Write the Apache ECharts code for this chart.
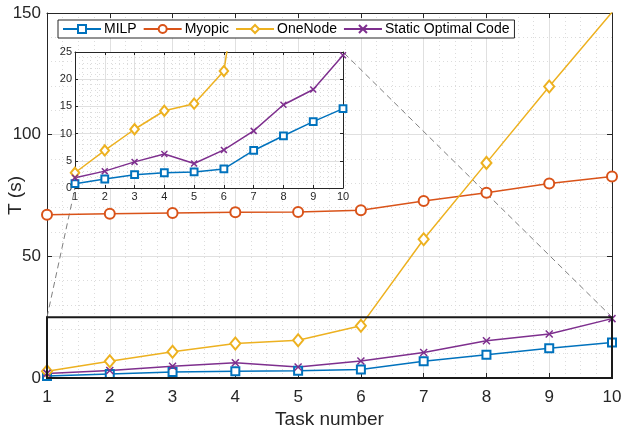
<!DOCTYPE html>
<html>
<head>
<meta charset="utf-8">
<script src="https://cdn.jsdelivr.net/npm/echarts@6/dist/echarts.min.js"></script>
<style>
  html, body { margin: 0; padding: 0; background: #fff; }
  #chart { width: 621px; height: 433px; }
</style>
</head>
<body>
<div id="chart"></div>
<script>
// Task numbers on the x axis
const tasks = [1, 2, 3, 4, 5, 6, 7, 8, 9, 10];

// Completion time T (s) per method
const milp      = [0.8, 1.65, 2.45, 2.8, 2.95, 3.5, 6.9, 9.6, 12.2, 14.6];
const myopic    = [67.1, 67.5, 67.8, 68.1, 68.2, 68.9, 72.7, 76.1, 79.9, 82.8];
const oneNode   = [2.8, 6.9, 10.8, 14.2, 15.5, 21.5, 57.0, 88.4, 119.8, 150.3];
const staticOpt = [1.9, 3.1, 4.8, 6.25, 4.5, 7.0, 10.5, 15.3, 18.1, 24.4];

// Axis ranges and ticks
const mainX = [1, 10];
const mainY = [0, 150];
const mainYTicks = 50;
const zoomX = [1, 10];
const zoomY = [0, 25];
const zoomYTicks = 5;

const FONT = '"Liberation Sans", Arial, Helvetica, sans-serif';
const AX = '#262626';
const GRID = '#e0e0e0';

const pairs = vals => tasks.map((t, i) => [t, vals[i]]);

const styles = [
  { name: 'MILP', data: milp, color: '#0072BD', symbol: 'emptyRect', size: 8 },
  { name: 'Myopic', data: myopic, color: '#D95319', symbol: 'emptyCircle', size: 10 },
  { name: 'OneNode', data: oneNode, color: '#EDB120', symbol: 'emptyDiamond', size: [10, 12] },
  { name: 'Static Optimal Code', data: staticOpt, color: '#7E2F8E', symbol: 'path://M0 0L10 10M10 0L0 10', size: 7 }
];

function makeSeries(s, xi, yi, scale, z) {
  const size = Array.isArray(s.size) ? s.size.map(v => v * scale) : s.size * scale;
  return {
    name: s.name,
    type: 'line',
    xAxisIndex: xi,
    yAxisIndex: yi,
    data: pairs(s.data),
    symbol: s.symbol,
    symbolSize: size,
    showAllSymbol: true,
    clip: true,
    z: z,
    lineStyle: { color: s.color, width: 1.5 },
    itemStyle: { color: s.color, borderColor: s.color, borderWidth: 1.5 },
    emphasis: { disabled: true },
    animation: false
  };
}

function valueAxis(opts) {
  return Object.assign({
    type: 'value',
    axisLine: { show: true, onZero: false, lineStyle: { color: AX, width: 1 } },
    axisTick: { show: true, inside: true, length: 5, lineStyle: { color: AX } },
    axisLabel: { show: true, color: AX, fontFamily: FONT, fontSize: 17 },
    splitLine: { show: false },
    minorTick: { show: false },
    minorSplitLine: { show: false }
  }, opts);
}

const majorLine = { show: true, lineStyle: { color: GRID, width: 1, type: 'solid' } };
const minorLine = { show: true, lineStyle: { color: '#dcdcdc', width: 1, type: [1, 3] } };

const chart = echarts.init(document.getElementById('chart'), null, { renderer: 'canvas' });

const option = {
  backgroundColor: '#fff',
  animation: false,
  textStyle: { fontFamily: FONT },
  grid: [
    { left: 47, right: 9, top: 13, bottom: 55, containLabel: false, outerBoundsMode: 'none' },
    { left: 75, top: 52, width: 268, height: 136, show: true, backgroundColor: '#fff', borderWidth: 0, z: 3,
      containLabel: false, outerBoundsMode: 'none' }
  ],
  legend: {
    left: 58, top: 20,
    orient: 'horizontal',
    itemWidth: 38, itemHeight: 10, itemGap: 6,
    padding: [2, 5, 2, 4],
    borderColor: AX, borderWidth: 1,
    backgroundColor: '#fff',
    textStyle: { fontFamily: FONT, fontSize: 14, color: '#000', padding: [0, 0, 0, -2] },
    data: styles.map(s => s.name),
    z: 10
  },
  xAxis: [
    valueAxis({
      gridIndex: 0, position: 'bottom', min: mainX[0], max: mainX[1], interval: 1,
      name: 'Task number', nameLocation: 'middle', nameGap: 32, nameMoveOverlap: false,
      nameTextStyle: { fontFamily: FONT, fontSize: 19, color: AX },
      axisLabel: { color: AX, fontFamily: FONT, fontSize: 17, margin: 11 },
      splitLine: majorLine,
      minorSplitLine: minorLine,
      minorTick: { show: false, splitNumber: 4 }
    }),
    valueAxis({
      gridIndex: 0, position: 'top', min: mainX[0], max: mainX[1], interval: 1,
      axisLabel: { show: false }
    }),
    valueAxis({
      gridIndex: 1, position: 'bottom', min: zoomX[0], max: zoomX[1], interval: 1, z: 4,
      axisTick: { show: true, inside: true, length: 3, lineStyle: { color: AX } },
      axisLabel: { color: AX, fontFamily: FONT, fontSize: 11, margin: 3 },
      splitLine: majorLine,
      minorSplitLine: minorLine,
      minorTick: { show: false, splitNumber: 4 }
    }),
    valueAxis({
      gridIndex: 1, position: 'top', min: zoomX[0], max: zoomX[1], interval: 1, z: 4,
      axisTick: { show: true, inside: true, length: 3, lineStyle: { color: AX } },
      axisLabel: { show: false }
    })
  ],
  yAxis: [
    valueAxis({
      gridIndex: 0, position: 'left', min: mainY[0], max: mainY[1], interval: mainYTicks,
      name: 'T (s)', nameLocation: 'middle', nameGap: 22, nameRotate: 90, nameMoveOverlap: false,
      nameTextStyle: { fontFamily: FONT, fontSize: 19, color: AX },
      axisLabel: { color: AX, fontFamily: FONT, fontSize: 17, margin: 6 },
      splitLine: majorLine,
      minorSplitLine: minorLine,
      minorTick: { show: false, splitNumber: 5 }
    }),
    valueAxis({
      gridIndex: 0, position: 'right', min: mainY[0], max: mainY[1], interval: mainYTicks,
      axisLabel: { show: false }
    }),
    valueAxis({
      gridIndex: 1, position: 'left', min: zoomY[0], max: zoomY[1], interval: zoomYTicks, z: 4,
      axisTick: { show: true, inside: true, length: 3, lineStyle: { color: AX } },
      axisLabel: { color: AX, fontFamily: FONT, fontSize: 11, margin: 3 },
      splitLine: majorLine,
      minorSplitLine: minorLine,
      minorTick: { show: false, splitNumber: 5 }
    }),
    valueAxis({
      gridIndex: 1, position: 'right', min: zoomY[0], max: zoomY[1], interval: zoomYTicks, z: 4,
      axisTick: { show: true, inside: true, length: 3, lineStyle: { color: AX } },
      axisLabel: { show: false }
    })
  ],
  series: [
    ...styles.map(s => makeSeries(s, 0, 0, 1, 2)),
    ...styles.map(s => makeSeries(s, 2, 2, 0.85, 6))
  ]
};

chart.setOption(option);

// Zoom box on the main axes and dashed connectors to the inset corners
const toMain = p => chart.convertToPixel({ xAxisIndex: 0, yAxisIndex: 0 }, p);
const toInset = p => chart.convertToPixel({ xAxisIndex: 2, yAxisIndex: 2 }, p);

const boxTL = toMain([zoomX[0], zoomY[1]]);
const boxBR = toMain([zoomX[1], zoomY[0]]);
const boxTR = toMain([zoomX[1], zoomY[1]]);
const insetBL = toInset([zoomX[0], zoomY[0]]);
const insetTR = toInset([zoomX[1], zoomY[1]]);

const dashed = { stroke: '#7f7f7f', lineWidth: 1, lineDash: [6, 4] };

chart.setOption({
  graphic: [
    {
      type: 'rect', z: 20, silent: true,
      shape: { x: boxTL[0], y: boxTL[1], width: boxBR[0] - boxTL[0], height: boxBR[1] - boxTL[1] },
      style: { fill: 'none', stroke: '#1a1a1a', lineWidth: 2 }
    },
    {
      type: 'line', z: 1, silent: true,
      shape: { x1: boxTL[0], y1: boxTL[1], x2: insetBL[0], y2: insetBL[1] },
      style: dashed
    },
    {
      type: 'line', z: 1, silent: true,
      shape: { x1: boxTR[0], y1: boxTR[1], x2: insetTR[0], y2: insetTR[1] },
      style: dashed
    }
  ]
});
</script>
</body>
</html>
